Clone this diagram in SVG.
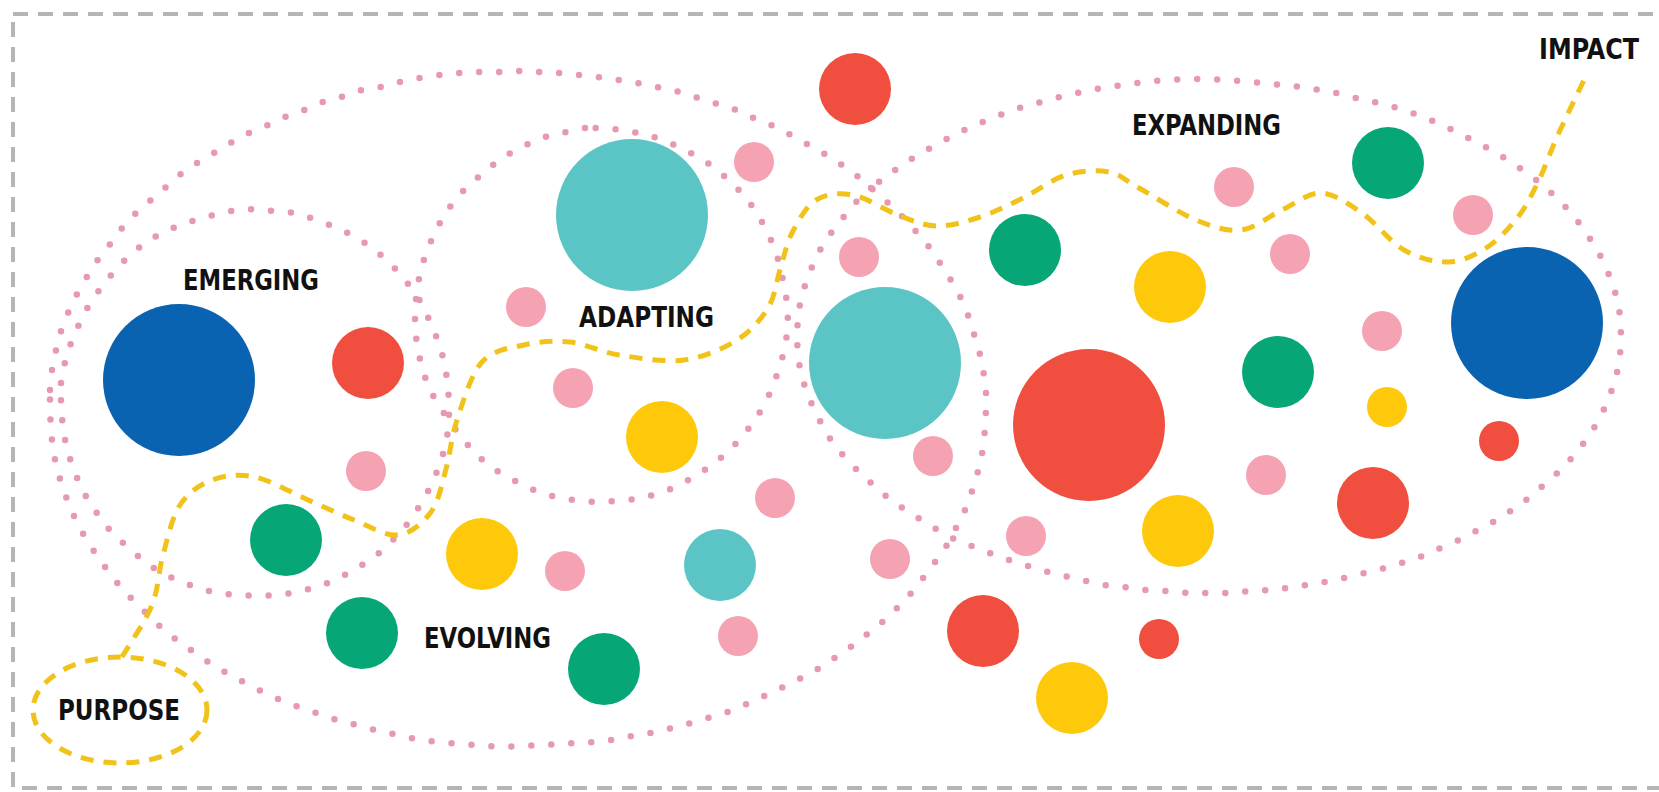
<svg xmlns="http://www.w3.org/2000/svg" width="1659" height="792" viewBox="0 0 1659 792">
<style>
.frame{fill:none;stroke:#b5b5b5;stroke-width:4;stroke-dasharray:15 10}
.loop{fill:none;stroke:#e59ab0;stroke-width:6.5;stroke-linecap:round;stroke-linejoin:round;stroke-dasharray:0 20}
.path{fill:none;stroke:#f1c31a;stroke-width:5;stroke-dasharray:13 10}
.blue{fill:#0a63b1}
.teal{fill:#5bc5c5}
.red{fill:#f04e3e}
.green{fill:#06a676}
.yellow{fill:#fec80b}
.pink{fill:#f5a3b3}
.lbl{font-family:"Liberation Sans Narrow","DejaVu Sans Condensed","Liberation Sans",sans-serif;font-weight:bold;font-size:29px;fill:#111}
</style>
<rect class="frame" x="13" y="14" width="1700" height="774"/>
<g id="connectors">
<path id="loop-evolving" class="loop" d="M50,390 L52,370 56,350 61,331 68,313 77,294 88,275 99,258 111,243 122,228 136,213 151,200 166,187 182,173 197,163 214,153 232,142 249,133 268,125 285,117 304,110 323,102 341,97 362,90 381,87 400,82 419,78 440,75 459,73 478,72 498,72 519,71 540,72 559,73 578,75 598,77 618,80 637,83 657,87 676,91 695,97 714,103 734,109 751,117 769,124 787,133 805,143 823,153 839,163 855,174 871,188 886,201 900,214 913,228 927,244 938,260 949,277 959,294 967,312 973,331 979,350 983,369 986,389 986,409 985,429 983,449 979,468 973,488 967,506 958,524 949,542 938,558 927,573 914,590 900,605 886,619 871,631 855,644 839,655 823,666 805,676 787,685 769,694 751,702 734,710 714,716 695,722 676,727 657,732 637,735 618,739 598,742 578,743 559,744 540,745 519,746 499,747 478,745 459,744 439,742 419,740 400,735 381,732 362,726 342,722 323,715 304,709 285,702 267,694 249,685 232,676 214,666 198,655 182,644 165,631 150,617 137,604 123,590 111,575 99,559 88,542 78,525 70,507 63,489 57,469 53,450 51,430 50,410 Z"/>
<path id="loop-emerging" class="loop" d="M61,383 L65,362 71,343 80,322 90,303 103,285 117,268 132,253 149,240 168,230 189,222 210,216 231,211 253,209 275,211 295,213 317,220 337,228 356,237 374,249 390,263 405,280 417,295 427,315 436,336 443,357 447,378 449,400 449,424 446,444 440,464 432,484 421,504 409,522 394,539 379,553 362,565 343,576 323,585 302,591 281,595 259,596 238,595 216,593 195,587 174,579 155,569 138,556 122,542 107,527 94,509 82,490 74,470 67,450 63,429 61,405 Z"/>
<path id="loop-adapting" class="loop" d="M585,128 L566,132 545,137 526,145 507,155 490,167 475,180 459,195 446,212 436,230 428,248 421,268 417,289 415,309 415,330 418,351 423,372 431,392 441,409 453,426 466,443 480,458 497,471 515,481 534,490 555,497 574,500 595,502 616,501 637,499 657,494 676,487 694,477 712,465 728,452 743,436 755,420 766,402 774,383 781,363 786,342 788,322 787,302 783,280 778,259 771,240 762,222 750,203 737,188 722,174 705,161 687,151 668,142 648,135 628,131 607,128 Z"/>
<path id="loop-expanding" class="loop" d="M871,188 L855,203 842,219 828,237 817,255 809,274 802,294 798,314 797,337 798,358 802,378 809,398 818,417 828,436 841,453 856,469 871,483 887,497 904,509 923,521 941,532 960,542 980,549 999,557 1019,563 1041,570 1060,575 1082,580 1103,585 1123,587 1145,590 1166,591 1188,593 1209,593 1230,593 1252,591 1272,590 1294,587 1314,584 1336,580 1356,575 1378,570 1398,564 1418,558 1438,549 1457,541 1476,531 1495,521 1512,510 1530,497 1546,483 1562,469 1576,453 1589,436 1600,418 1609,398 1616,378 1620,356 1621,335 1620,315 1616,295 1609,275 1600,255 1589,237 1576,219 1562,203 1546,188 1530,175 1512,163 1495,152 1476,142 1457,132 1438,123 1418,115 1398,108 1378,103 1356,98 1336,93 1314,89 1294,86 1272,84 1252,82 1230,80 1209,79 1188,79 1166,80 1145,82 1123,85 1102,88 1082,92 1060,97 1041,102 1019,108 1000,115 980,123 960,132 941,142 923,152 905,163 888,175 Z"/>
<path id="journey" class="path" d="M122,657 C132,640 145.2,622 152,605 C158.8,588 158.3,571.7 163,555 C167.7,538.3 171.8,517.5 180,505 C188.2,492.5 199.5,484.7 212,480 C224.5,475.3 239.3,473.8 255,477 C270.7,480.2 289.5,491.8 306,499 C322.5,506.2 338.7,514 354,520 C369.3,526 385.2,536.3 398,535 C410.8,533.7 423,523 431,512 C439,501 441.7,484.3 446,469 C450.3,453.7 451,437.8 457,420 C463,402.2 470.8,374.5 482,362 C493.2,349.5 509.3,348.3 524,345 C538.7,341.7 554.2,340.3 570,342 C585.8,343.7 600,352 619,355 C638,358 664.3,362.5 684,360 C703.7,357.5 723,348.7 737,340 C751,331.3 760.8,319.7 768,308 C775.2,296.3 776,282.5 780,270 C784,257.5 786,244.7 792,233 C798,221.3 805.8,206.3 816,200 C826.2,193.7 839.3,192.5 853,195 C866.7,197.5 884,209.8 898,215 C912,220.2 923.3,225.7 937,226 C950.7,226.3 965.7,221.7 980,217 C994.3,212.3 1008.7,205 1023,198 C1037.3,191 1051.7,179.3 1066,175 C1080.3,170.7 1096.8,169.8 1109,172 C1121.2,174.2 1124.5,180 1139,188 C1153.5,196 1179,213 1196,220 C1213,227 1226.7,231.7 1241,230 C1255.3,228.3 1268.7,216.2 1282,210 C1295.3,203.8 1307.7,192.5 1321,193 C1334.3,193.5 1348.2,203.5 1362,213 C1375.8,222.5 1389.7,241.8 1404,250 C1418.3,258.2 1434.3,262.3 1448,262 C1461.7,261.7 1474.3,255.5 1486,248 C1497.7,240.5 1509.2,228.3 1518,217 C1526.8,205.7 1532.5,193.3 1539,180 C1545.5,166.7 1549.5,153.7 1557,137 C1564.5,120.3 1575,99 1584,80"/>
</g>
<g id="node-purpose">
<ellipse class="path" cx="120" cy="710" rx="87" ry="53"/>
<text class="lbl" x="58" y="720" textLength="122" lengthAdjust="spacingAndGlyphs">PURPOSE</text>
</g>
<g id="circles">
<circle id="c1" class="blue" cx="179" cy="380" r="76"/>
<circle id="c2" class="red" cx="368" cy="363" r="36"/>
<circle id="c3" class="pink" cx="366" cy="471" r="20"/>
<circle id="c4" class="green" cx="286" cy="540" r="36"/>
<circle id="c5" class="green" cx="362" cy="633" r="36"/>
<circle id="c6" class="yellow" cx="482" cy="554" r="36"/>
<circle id="c7" class="pink" cx="565" cy="571" r="20"/>
<circle id="c8" class="green" cx="604" cy="669" r="36"/>
<circle id="c9" class="teal" cx="632" cy="215" r="76"/>
<circle id="c10" class="pink" cx="526" cy="307" r="20"/>
<circle id="c11" class="pink" cx="573" cy="388" r="20"/>
<circle id="c12" class="yellow" cx="662" cy="437" r="36"/>
<circle id="c13" class="pink" cx="754" cy="162" r="20"/>
<circle id="c14" class="red" cx="855" cy="89" r="36"/>
<circle id="c15" class="pink" cx="775" cy="498" r="20"/>
<circle id="c16" class="teal" cx="720" cy="565" r="36"/>
<circle id="c17" class="pink" cx="738" cy="636" r="20"/>
<circle id="c18" class="pink" cx="859" cy="257" r="20"/>
<circle id="c19" class="teal" cx="885" cy="363" r="76"/>
<circle id="c20" class="pink" cx="933" cy="456" r="20"/>
<circle id="c21" class="pink" cx="890" cy="559" r="20"/>
<circle id="c22" class="red" cx="983" cy="631" r="36"/>
<circle id="c23" class="red" cx="1159" cy="639" r="20"/>
<circle id="c24" class="yellow" cx="1072" cy="698" r="36"/>
<circle id="c25" class="pink" cx="1026" cy="536" r="20"/>
<circle id="c26" class="green" cx="1025" cy="250" r="36"/>
<circle id="c27" class="yellow" cx="1170" cy="287" r="36"/>
<circle id="c28" class="red" cx="1089" cy="425" r="76"/>
<circle id="c29" class="yellow" cx="1178" cy="531" r="36"/>
<circle id="c30" class="pink" cx="1234" cy="187" r="20"/>
<circle id="c31" class="pink" cx="1290" cy="254" r="20"/>
<circle id="c32" class="green" cx="1388" cy="163" r="36"/>
<circle id="c33" class="pink" cx="1473" cy="215" r="20"/>
<circle id="c34" class="green" cx="1278" cy="372" r="36"/>
<circle id="c35" class="pink" cx="1382" cy="331" r="20"/>
<circle id="c36" class="yellow" cx="1387" cy="407" r="20"/>
<circle id="c37" class="pink" cx="1266" cy="475" r="20"/>
<circle id="c38" class="red" cx="1373" cy="503" r="36"/>
<circle id="c39" class="red" cx="1499" cy="441" r="20"/>
<circle id="c40" class="blue" cx="1527" cy="323" r="76"/>
</g>
<g id="node-emerging"><text class="lbl" x="183" y="290" textLength="136" lengthAdjust="spacingAndGlyphs">EMERGING</text></g>
<g id="node-adapting"><text class="lbl" x="579" y="327" textLength="135" lengthAdjust="spacingAndGlyphs">ADAPTING</text></g>
<g id="node-evolving"><text class="lbl" x="424" y="648" textLength="127" lengthAdjust="spacingAndGlyphs">EVOLVING</text></g>
<g id="node-expanding"><text class="lbl" x="1132" y="135" textLength="149" lengthAdjust="spacingAndGlyphs">EXPANDING</text></g>
<g id="node-impact"><text class="lbl" x="1539" y="59" textLength="100" lengthAdjust="spacingAndGlyphs">IMPACT</text></g>
</svg>
